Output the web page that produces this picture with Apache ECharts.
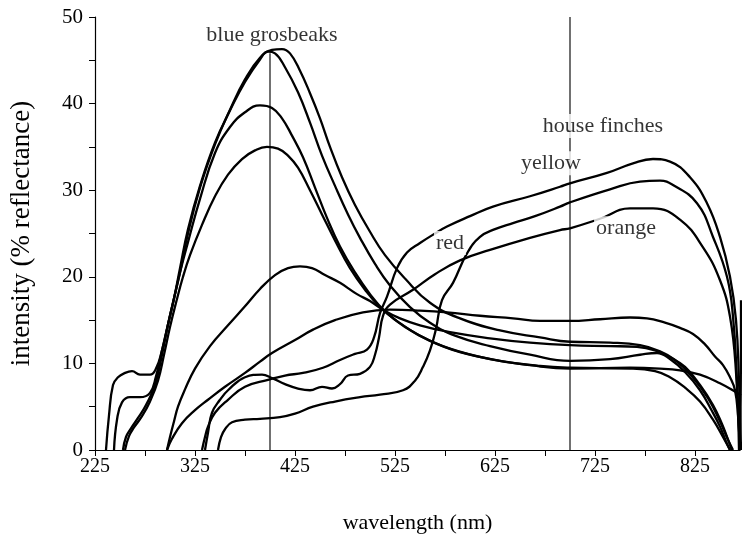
<!DOCTYPE html>
<html>
<head>
<meta charset="utf-8">
<title>reflectance spectra</title>
<script src="https://cdn.jsdelivr.net/npm/echarts@6/dist/echarts.min.js"></script>
<style>
  html, body { margin: 0; padding: 0; background: #fff; }
  #chart { width: 742px; height: 543px; }
</style>
</head>
<body>
<div id="chart"></div>
<script>
// wavelength (nm), intensity (% reflectance)
var grosbeakA = [[236,0],[239,4],[243,7.5],[248,8.4],[255,8.9],[262,9.1],[270,8.7],[280,8.7],[286,9.4],[292,11.5],[298,14.5],[304,17.5],[310,21],[318,25.5],[330,30.5],[345,35.5],[360,39.2],[375,42.5],[390,45.1],[398,46],[405,45.8],[415,44.2],[428,41.3],[440,37.8],[452,34],[465,30.5],[478,27.2],[490,24.5],[505,21.5],[520,19],[540,16.5],[560,14.7],[585,13.2],[620,12],[660,11],[700,10.3],[740,10.5],[770,11],[787,11.2],[800,10.5],[815,9],[830,6.9],[842,4.5],[850,2.7],[856,1],[860,0]];
var grosbeakB = [[244,0],[247,3.5],[252,5.5],[260,6.1],[270,6.1],[280,6.6],[286,8.5],[291,11],[297,14],[303,17],[310,20.5],[318,25],[330,30.3],[345,35.3],[360,39.3],[375,42.8],[390,45.3],[402,46.2],[412,46.3],[420,45.8],[430,43.8],[440,41.2],[450,38.3],[460,35],[472,31.5],[485,28.3],[500,25.2],[515,22.5],[535,19.8],[560,17],[590,15.2],[630,13.8],[670,13],[700,12.5],[740,12.4],[770,12.1],[790,11.4],[805,10.4],[822,8.5],[838,6],[850,3.3],[858,1.2],[863,0]];
var grosbeakC = [[253,0],[256,1.5],[261,2.5],[268,3.7],[276,5.2],[285,7.5],[292,11],[298,14.5],[304,17.5],[310,20.5],[318,24],[330,29],[345,34.3],[360,37.3],[375,39],[390,39.8],[402,39.5],[412,38.3],[422,36.3],[433,33.8],[445,30.3],[457,26.8],[470,23.5],[485,20.5],[500,18],[515,16],[535,14.2],[560,12.6],[590,11.3],[630,10.3],[670,9.7],[700,9.5],[760,9.4],[785,9.1],[800,8.4],[815,7.2],[830,5.6],[843,3.5],[853,1.5],[860,0]];
var grosbeakD = [[255,0],[259,1.6],[264,2.6],[272,3.9],[280,5.6],[288,8],[294,11],[300,14.2],[306,17],[313,20],[320,22.5],[332,26],[345,29.3],[358,31.8],[372,33.6],[385,34.6],[397,35],[408,34.8],[418,34],[428,32.6],[440,30],[452,27.2],[465,24.2],[480,21],[495,18.5],[510,16.5],[528,14.8],[550,13.2],[580,11.7],[620,10.5],[660,9.8],[700,9.4],[760,9.5],[790,9.4],[810,9.2],[830,8.7],[850,7.7],[867,6.6],[871,6.3]];
var grosbeakE = [[297,0],[300,1.5],[304,3.3],[308,5],[315,7],[325,9.4],[340,12],[358,14.4],[375,16.6],[390,18.6],[405,20.2],[418,21],[430,21.2],[442,21],[455,20.2],[470,19.3],[487,18],[500,17.2],[513,16.2],[530,15.2],[550,14.4],[580,13.6],[620,12.9],[660,12.4],[700,12.1],[740,12],[767,11.9],[785,11.5],[800,10.7],[815,9.6],[830,7.5],[843,5.2],[852,3],[858,1.2],[862,0]];
var grosbeakF = [[297,0],[302,1.3],[312,3.1],[325,4.6],[338,5.8],[355,7.3],[375,8.9],[390,10.2],[402,11.2],[425,12.7],[443,13.9],[465,15],[493,15.9],[520,16.2],[550,16.1],[577,15.9],[610,15.5],[643,15.2],[670,14.9],[700,14.9],[730,15.1],[760,15.3],[777,15.2],[795,14.7],[810,14.1],[823,13.4],[835,12.2],[845,10.8],[853,9.8],[860,8.4],[865,6.9],[868,4],[870,0]];
var finchYellow = [[332,0],[335,1.5],[338,2.7],[345,4.3],[358,5.8],[375,7.3],[398,8.1],[415,8.6],[433,8.9],[453,9.5],[470,10.4],[485,11.1],[497,11.6],[504,13],[510,15.8],[517,17.7],[527,21],[537,22.8],[550,23.9],[565,25],[577,25.8],[600,27],[623,28.1],[660,29.3],[690,30.4],[700,30.8],[737,32],[763,33.1],[783,33.6],[800,33.3],[820,31.5],[837,28.5],[850,24.6],[860,20],[866,15],[869,8],[871,0]];
var finchOrange = [[335,0],[338,2],[342,4.3],[350,5.8],[358,6.9],[375,8.4],[392,8.7],[402,8.3],[415,7.6],[428,7.1],[440,6.9],[452,7.3],[462,7.1],[470,7.6],[478,8.6],[490,8.8],[500,9.6],[505,11],[509,13],[513,15.5],[520,16.8],[543,18.5],[565,20.3],[590,21.9],[620,23.1],[660,24.5],[690,25.4],[700,25.6],[730,26.7],[760,27.9],[783,27.9],[810,26.6],[833,23.4],[850,19.6],[860,15.4],[866,9],[869,0]];
var finchRed = [[348,0],[351,1.5],[355,2.4],[362,3.2],[375,3.5],[390,3.6],[410,3.8],[425,4.2],[443,5],[465,5.6],[490,6.1],[510,6.4],[533,6.9],[545,8],[553,9.6],[560,11.5],[566,14],[572,17.3],[583,19.3],[597,22.7],[610,24.6],[625,25.5],[643,26.2],[665,27],[690,28.1],[700,28.6],[740,30.1],[770,31],[790,31.1],[803,30.6],[827,28.5],[843,24.6],[857,20],[863,15.4],[867,8],[870,0],[871,17.3]];

var spectra = [grosbeakA, grosbeakB, grosbeakC, grosbeakD, grosbeakE, grosbeakF, finchYellow, finchOrange, finchRed];

// reference wavelengths marked with vertical lines
var markerNm = [400, 700];
var markerTop = [45.8, 50];

var annotationText = ['blue grosbeaks', 'house finches', 'yellow', 'red', 'orange'];
var annotationAt = [[402, 47.9], [733, 37.4], [681, 33.1], [580, 23.9], [756, 25.6]];

var xTicks = [225, 325, 425, 525, 625, 725, 825];

var serif = '"Liberation Serif", "Times New Roman", serif';

var chart = echarts.init(document.getElementById('chart'));

var series = [];
spectra.forEach(function (d, i) {
    series.push({
        name: 's' + i,
        type: 'line',
        data: d,
        symbol: 'none',
        smooth: 0.45,
        lineStyle: { color: '#000', width: 2.3 },
        z: 3
    });
});
markerNm.forEach(function (nm, i) {
    series.push({
        type: 'line',
        data: [[nm, 0], [nm, markerTop[i]]],
        symbol: 'none',
        lineStyle: { color: '#111', width: 1.2 },
        z: 2
    });
});
series.push({
    type: 'scatter',
    symbolSize: 0,
    data: annotationAt.map(function (p, i) {
        return { value: p, name: annotationText[i] };
    }),
    label: {
        show: true,
        position: 'inside',
        formatter: '{b}',
        color: '#000',
        fontFamily: serif,
        fontSize: 22,
        backgroundColor: '#fff',
        padding: [1, 2]
    },
    emphasis: { disabled: true },
    z: 5
});

var option = {
    animation: false,
    grid: { left: 95, right: 2, top: 17, bottom: 93, containLabel: false },
    xAxis: {
        type: 'value',
        min: 225,
        max: 870,
        interval: 50,
        name: 'wavelength (nm)',
        nameLocation: 'middle',
        nameGap: 62,
        nameTextStyle: { color: '#000', fontFamily: serif, fontSize: 22 },
        axisLine: { lineStyle: { color: '#000', width: 1.2 } },
        axisTick: { length: 6, lineStyle: { color: '#000' } },
        axisLabel: {
            color: '#000',
            fontFamily: serif,
            fontSize: 20,
            margin: 7,
            showMaxLabel: false,
            formatter: function (v) {
                return xTicks.indexOf(v) >= 0 ? String(v) : '';
            }
        },
        splitLine: { show: false }
    },
    yAxis: {
        type: 'value',
        min: 0,
        max: 50,
        interval: 10,
        name: 'intensity (% reflectance)',
        nameLocation: 'middle',
        nameRotate: 90,
        nameGap: 60,
        nameTextStyle: { color: '#000', fontFamily: serif, fontSize: 27 },
        axisLine: { show: true, lineStyle: { color: '#000', width: 1.2 } },
        axisTick: { show: true, length: 6, lineStyle: { color: '#000' } },
        minorTick: { show: true, splitNumber: 2, length: 6, lineStyle: { color: '#000' } },
        axisLabel: { color: '#000', fontFamily: serif, fontSize: 21, margin: 12 },
        splitLine: { show: false }
    },
    series: series
};

chart.setOption(option);
</script>
</body>
</html>
